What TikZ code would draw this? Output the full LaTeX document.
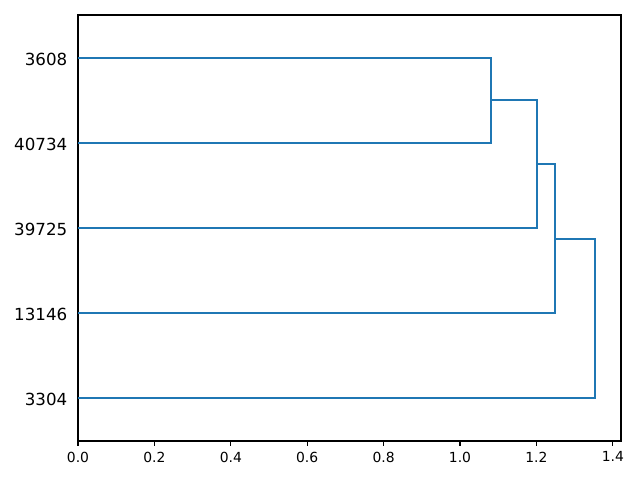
\documentclass[tikz,border=0pt]{standalone}
\usepackage{fontspec}
\setmainfont{DejaVu Sans}
\usepackage{xcolor}
\usetikzlibrary{positioning,calc}
\definecolor{mplblue}{HTML}{1F77B4}

\begin{document}
\begin{tikzpicture}[
  x=0.72pt,y=-0.72pt,
  link/.style={mplblue,line width=1.5pt,line join=miter},
  spine/.style={black,line width=0.8pt},
  tick/.style={black,line width=0.8pt},
  leaflabel/.style={anchor=east,font=\fontsize{12}{14}\selectfont,inner sep=0pt},
  ticklabel/.style={anchor=north,font=\fontsize{10}{12}\selectfont,inner sep=0pt}
]
\useasboundingbox (0,0) rectangle (640,480);

% Axes frame
\draw[spine] (78,15) rectangle (621,441);

% Leaf labels (no tick marks on this axis)
\node[leaflabel] (l3608)  at (67.5,59)    {3608};
\node[leaflabel] (l40734) at (67.5,144.2) {40734};
\node[leaflabel] (l39725) at (67.5,229.4) {39725};
\node[leaflabel] (l13146) at (67.5,314.6) {13146};
\node[leaflabel] (l3304)  at (67.5,399.8) {3304};

% Leaf ends on the y axis
\coordinate (a3608)  at (78,57.6);
\coordinate (a40734) at (78,142.8);
\coordinate (a39725) at (78,228);
\coordinate (a13146) at (78,313.2);
\coordinate (a3304)  at (78,398.4);

% Merge points
\coordinate (m1) at (490.8,100.2);
\coordinate (m2) at (537,164.1);
\coordinate (m3) at (555,238.65);
\coordinate (m4) at (595,318.5);

% Dendrogram links
\draw[link] (a3608) -| (m1) |- (a40734);
\draw[link] (m1) -- (m1 -| m2) |- (a39725);
\draw[link] (m2) -- (m2 -| m3) |- (a13146);
\draw[link] (m3) -- (m3 -| m4) |- (a3304);

% x axis ticks
\foreach \v [count=\i from 0] in {0.0,0.2,0.4,0.6,0.8,1.0,1.2,1.4} {
  \draw[tick] ({78+76.4*\i},441) -- ({78+76.4*\i},446);
  \node[ticklabel] (t\i) at ({78+76.4*\i},451.5) {\v};
}
\end{tikzpicture}
\end{document}
